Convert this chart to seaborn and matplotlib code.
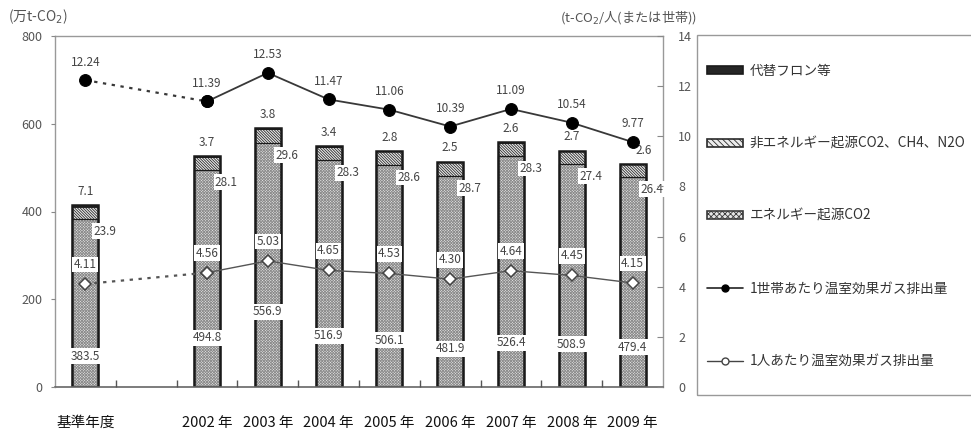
import matplotlib
matplotlib.use("Agg")
import matplotlib.pyplot as plt
import seaborn as sns
import pandas as pd
from matplotlib.patches import Patch, Rectangle
from matplotlib.lines import Line2D
from matplotlib.ticker import FixedLocator

# ---- data -------------------------------------------------------------
categories = ["基準年度", "2002 年", "2003 年", "2004 年", "2005 年",
              "2006 年", "2007 年", "2008 年", "2009 年"]
energy_co2 = [383.5, 494.8, 556.9, 516.9, 506.1, 481.9, 526.4, 508.9, 479.4]
non_energy = [23.9, 28.1, 29.6, 28.3, 28.6, 28.7, 28.3, 27.4, 26.4]
hfc_etc = [7.1, 3.7, 3.8, 3.4, 2.8, 2.5, 2.6, 2.7, 2.6]
per_household = [12.24, 11.39, 12.53, 11.47, 11.06, 10.39, 11.09, 10.54, 9.77]
per_person = [4.11, 4.56, 5.03, 4.65, 4.53, 4.30, 4.64, 4.45, 4.15]

legend_labels = ["代替フロン等", "非エネルギー起源CO2、CH4、N2O", "エネルギー起源CO2",
                 "1世帯あたり温室効果ガス排出量", "1人あたり温室効果ガス排出量"]

# ---- layout -----------------------------------------------------------
# base year sits apart from the yearly series, one empty slot between
slots = [0, 2, 3, 4, 5, 6, 7, 8, 9]
bar_width = 0.43
# heights (left-axis units) at which the energy-CO2 values are printed
energy_label_y = [70, 112, 171, 117, 107, 87, 101, 98, 91]
# horizontal nudges (points) for the labels above the bars
top_label_dx = [0, 0, 0, 0, 0, 0, 0, 0, 8]

sns.set_theme(style="white")
plt.rcParams["font.family"] = ["Noto Sans CJK JP", "DejaVu Sans"]
plt.rcParams["hatch.linewidth"] = 0.6
plt.rcParams["axes.unicode_minus"] = False

df = pd.DataFrame({"slot": slots, "energy": energy_co2,
                   "non_energy": non_energy, "hfc": hfc_etc})
df["lower2"] = df["energy"] + df["non_energy"]
df["total"] = df["lower2"] + df["hfc"]

fig = plt.figure(figsize=(9.71, 4.30), dpi=100)
ax = fig.add_axes([55 / 971, 1 - 387 / 430, (663 - 55) / 971, (387 - 36) / 430])

# stacked bars: draw cumulative totals from the top layer down
sns.barplot(data=df, x="slot", y="total", native_scale=True, width=bar_width,
            color="#262626", saturation=1, edgecolor="#1a1a1a", linewidth=0.8,
            errorbar=None, ax=ax, zorder=1)
sns.barplot(data=df, x="slot", y="lower2", native_scale=True, width=bar_width,
            color="#ececec", saturation=1, edgecolor="#2a2a2a", linewidth=0,
            hatch="\\\\\\\\\\\\\\\\\\\\\\\\", errorbar=None, ax=ax, zorder=1.1)
sns.barplot(data=df, x="slot", y="energy", native_scale=True, width=bar_width,
            color="#e6e6e6", saturation=1, edgecolor="#8c8c8c", linewidth=0,
            hatch="xxxxxxxxxxxx", errorbar=None, ax=ax, zorder=1.2)
# outlines
sns.barplot(data=df, x="slot", y="total", native_scale=True, width=bar_width,
            fill=False, color="#1a1a1a", linewidth=1.8,
            errorbar=None, ax=ax, zorder=1.3)
sns.barplot(data=df, x="slot", y="energy", native_scale=True, width=bar_width,
            fill=False, color="#1a1a1a", linewidth=0.9,
            errorbar=None, ax=ax, zorder=1.3)

label_kw = dict(fontsize=8.5, color="#444444", ha="center", va="center",
                zorder=4)
white_box = dict(boxstyle="square,pad=0.12", fc="white", ec="none")

for i, s in enumerate(slots):
    ax.text(s, energy_label_y[i], f"{energy_co2[i]:.1f}", bbox=white_box,
            **label_kw)
    ax.annotate(f"{non_energy[i]:.1f}", (s, df["energy"][i]),
                xytext=(14, -9), textcoords="offset points", bbox=white_box,
                **label_kw)
    ax.annotate(f"{hfc_etc[i]:.1f}", (s, df["total"][i]),
                xytext=(top_label_dx[i], 10), textcoords="offset points",
                **label_kw)

# ---- per-household / per-person lines on the secondary axis ----------
ax2 = ax.twinx()
line_df = pd.DataFrame({"slot": slots, "household": per_household,
                        "person": per_person})
yearly = line_df.iloc[1:]
bridge = line_df.iloc[:2]

hh_style = dict(color="#383838", marker="o", markersize=8.5,
                markerfacecolor="black", markeredgecolor="black", ax=ax2)
pp_style = dict(color="#555555", marker="D", markersize=6.5,
                markerfacecolor="white", markeredgecolor="#444444",
                markeredgewidth=1.1, ax=ax2)

sns.lineplot(data=bridge, x="slot", y="household", linestyle=(0, (1.5, 2.5)),
             linewidth=1.6, **hh_style)
sns.lineplot(data=yearly, x="slot", y="household", linewidth=1.3, **hh_style)
sns.lineplot(data=bridge, x="slot", y="person", linestyle=(0, (1.5, 2.5)),
             linewidth=1.6, zorder=3, **pp_style)
sns.lineplot(data=yearly, x="slot", y="person", linewidth=1.0, zorder=3,
             **pp_style)

for i, s in enumerate(slots):
    ax2.annotate(f"{per_household[i]:.2f}", (s, per_household[i]),
                 xytext=(0, 13), textcoords="offset points", bbox=white_box,
                 **label_kw)
    ax2.annotate(f"{per_person[i]:.2f}", (s, per_person[i]),
                 xytext=(0, 14), textcoords="offset points", bbox=white_box,
                 **label_kw)

# ---- axes styling -------------------------------------------------------
ax.set_xlim(-0.5, 9.5)
ax.set_ylim(0, 800)
ax.set_yticks(range(0, 801, 200))
ax.set_xticks(slots)
ax.set_xticklabels(categories)
ax.xaxis.set_minor_locator(FixedLocator([x + 0.5 for x in range(9)]))
ax.set_xlabel("")
ax.set_ylabel("")
ax.set_axisbelow(False)
ax.tick_params(axis="x", which="major", length=0, pad=21, labelsize=10.5,
               labelcolor="#111111")
ax.tick_params(axis="x", which="minor", direction="in", length=5,
               color="#555555", width=1.0, bottom=True)
ax.tick_params(axis="y", direction="out", length=3, width=0.8, color="#888888",
               pad=6, labelsize=9, labelcolor="#555555", left=True)
for side in ["left", "top", "right"]:
    ax.spines[side].set_color("#999999")
    ax.spines[side].set_linewidth(1.0)
ax.spines["bottom"].set_color("#666666")
ax.spines["bottom"].set_linewidth(1.2)

ax2.set_ylim(0, 14)
ax2.set_yticks(range(0, 15, 2))
ax2.set_ylabel("")
ax2.tick_params(axis="y", direction="in", length=4, width=0.8,
                color="#888888", pad=11, labelsize=9, labelcolor="#555555",
                right=True)
for side in ["left", "top", "right", "bottom"]:
    ax2.spines[side].set_visible(False)

# unit captions
fig.text(8 / 971, 1 - 17 / 430, "(万t-CO$_2$)", fontsize=10, color="#555555",
         va="center", ha="left")
fig.text(560 / 971, 1 - 17 / 430, "(t-CO$_2$/人(または世帯))", fontsize=9.5,
         color="#555555", va="center", ha="left")

# ---- legend -----------------------------------------------------------
handles = [
    Patch(facecolor="#262626", edgecolor="#1a1a1a", linewidth=1.2),
    Patch(facecolor="#ececec", edgecolor="#2a2a2a", hatch="\\\\\\\\\\\\",
          linewidth=1.2),
    Patch(facecolor="#e4e4e4", edgecolor="#3a3a3a", hatch="xxxxxx",
          linewidth=1.2),
    Line2D([], [], color="#222222", marker="o", markersize=5,
           markerfacecolor="black", markeredgecolor="black", linewidth=1.2),
    Line2D([], [], color="#444444", marker="o", markersize=5,
           markerfacecolor="white", markeredgecolor="#444444", linewidth=1.0),
]
fig.legend(handles, legend_labels, loc="center left",
           bbox_to_anchor=(707 / 971, 1 - 216 / 430), frameon=False,
           fontsize=9.8, labelspacing=4.3, borderpad=0, handlelength=2.65,
           handleheight=0.55, handletextpad=0.5, borderaxespad=0,
           labelcolor="#333333")
fig.add_artist(Rectangle((697 / 971, 1 - 395 / 430), (995 - 697) / 971,
                         360 / 430, transform=fig.transFigure, fill=False,
                         edgecolor="#999999", linewidth=1.0))

fig.savefig("out.png", dpi=100, facecolor="white")
